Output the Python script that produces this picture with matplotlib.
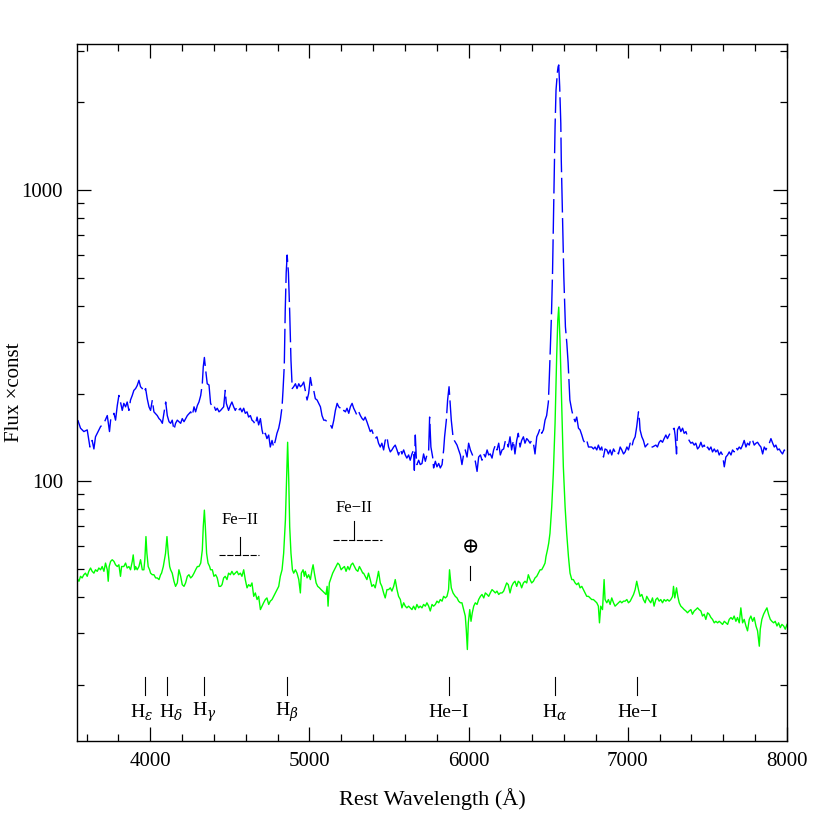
import matplotlib
matplotlib.use("Agg")
import matplotlib.pyplot as plt
from matplotlib.ticker import MultipleLocator, LogLocator, FuncFormatter, NullFormatter

plt.rcParams["font.family"] = ["Liberation Serif", "DejaVu Serif", "DejaVu Sans"]
plt.rcParams["mathtext.fontset"] = "dejavuserif"

# upper spectrum (blue, dashed)
wave_top = [
    3545, 3562, 3583, 3604, 3621, 3635, 3646, 3656, 3667, 3688, 3709, 3730, 3744, 3751, 3772, 3782,
    3793, 3803, 3813, 3824, 3834, 3845, 3855, 3866, 3876, 3887, 3897, 3908, 3918, 3929, 3939, 3950,
    3960, 3971, 3981, 3992, 4002, 4013, 4023, 4044, 4055, 4065, 4076, 4086, 4097, 4107, 4118, 4128,
    4138, 4149, 4159, 4170, 4191, 4201, 4212, 4233, 4254, 4264, 4275, 4285, 4296, 4306, 4317, 4327,
    4333, 4340, 4348, 4358, 4369, 4379, 4390, 4400, 4411, 4421, 4432, 4442, 4461, 4471, 4478, 4492,
    4503, 4513, 4524, 4534, 4545, 4555, 4566, 4576, 4587, 4597, 4608, 4618, 4629, 4639, 4650, 4660,
    4671, 4681, 4692, 4702, 4712, 4723, 4733, 4744, 4754, 4765, 4775, 4786, 4796, 4807, 4817, 4828,
    4834, 4842, 4848, 4854, 4860, 4868, 4876, 4884, 4892, 4901, 4912, 4922, 4933, 4943, 4954, 4964,
    4974, 4985, 4995, 5006, 5016, 5027, 5037, 5048, 5058, 5069, 5079, 5090, 5100, 5111, 5121, 5132,
    5142, 5153, 5163, 5174, 5184, 5195, 5205, 5216, 5226, 5236, 5247, 5257, 5268, 5278, 5289, 5299,
    5310, 5320, 5331, 5340, 5350, 5361, 5371, 5382, 5392, 5403, 5413, 5424, 5434, 5445, 5455, 5466,
    5476, 5487, 5497, 5508, 5518, 5529, 5539, 5550, 5560, 5571, 5581, 5592, 5602, 5612, 5623, 5633,
    5644, 5654, 5659, 5665, 5671, 5675, 5686, 5696, 5707, 5717, 5728, 5738, 5749, 5755, 5763, 5774,
    5780, 5791, 5801, 5812, 5822, 5833, 5843, 5849, 5860, 5868, 5877, 5885, 5891, 5902, 5910, 5927,
    5937, 5948, 5958, 5969, 5979, 5990, 6000, 6011, 6021, 6032, 6042, 6053, 6063, 6074, 6084, 6095,
    6105, 6116, 6126, 6136, 6147, 6157, 6168, 6178, 6189, 6199, 6210, 6220, 6231, 6239, 6249, 6260,
    6270, 6281, 6291, 6302, 6312, 6323, 6333, 6344, 6354, 6365, 6375, 6386, 6396, 6407, 6417, 6428,
    6438, 6449, 6459, 6470, 6480, 6490, 6501, 6507, 6514, 6520, 6527, 6531, 6535, 6539, 6543, 6549,
    6558, 6562, 6566, 6572, 6579, 6582, 6587, 6593, 6598, 6608, 6617, 6625, 6630, 6636, 6648, 6658,
    6669, 6679, 6690, 6700, 6711, 6721, 6732, 6742, 6753, 6773, 6784, 6794, 6805, 6815, 6826, 6836,
    6847, 6857, 6868, 6878, 6889, 6899, 6910, 6920, 6931, 6941, 6952, 6962, 6973, 6983, 6994, 7004,
    7015, 7025, 7035, 7046, 7056, 7067, 7073, 7077, 7088, 7098, 7109, 7119, 7130, 7144, 7155, 7176,
    7186, 7197, 7207, 7218, 7228, 7239, 7249, 7260, 7270, 7281, 7291, 7297, 7306, 7312, 7323, 7333,
    7344, 7354, 7365, 7375, 7385, 7396, 7406, 7417, 7427, 7438, 7448, 7459, 7469, 7480, 7490, 7501,
    7511, 7522, 7532, 7543, 7553, 7564, 7574, 7585, 7595, 7606, 7616, 7627, 7637, 7648, 7658, 7668,
    7679, 7689, 7700, 7710, 7721, 7731, 7742, 7752, 7763, 7773, 7784, 7794, 7805, 7815, 7826, 7836,
    7847, 7857, 7868, 7878, 7889, 7899, 7910, 7920, 7930, 7941, 7951, 7962, 7972, 7983, 7993, 8004,
]
flux_top = [
    162, 152, 148, 150, 131, 138, 129, 142, 146, 154, 158, 168, 148, 162, 171, 162,
    182, 197, 187, 175, 185, 180, 187, 175, 190, 197, 205, 208, 213, 222, 211, 208,
    202, 208, 192, 180, 175, 190, 173, 168, 164, 162, 158, 171, 187, 168, 160, 158,
    162, 150, 158, 162, 158, 164, 160, 168, 173, 168, 180, 173, 182, 187, 197, 216,
    247, 266, 241, 216, 214, 185, 180, 182, 175, 178, 173, 175, 180, 205, 185, 175,
    182, 187, 180, 175, 180, 175, 178, 173, 178, 171, 173, 166, 168, 162, 160, 156,
    166, 156, 164, 150, 142, 146, 140, 144, 131, 138, 131, 138, 146, 152, 162, 180,
    205, 250, 387, 520, 598, 520, 380, 260, 208, 211, 216, 208, 216, 211, 214, 219,
    205, 190, 200, 227, 211, 205, 192, 190, 185, 180, 168, 162, 162, 160, 158, 156,
    152, 162, 175, 185, 180, 178, 173, 175, 173, 178, 171, 180, 185, 178, 173, 168,
    173, 168, 164, 162, 166, 160, 154, 148, 150, 144, 140, 142, 135, 131, 135, 128,
    138, 142, 131, 126, 128, 131, 133, 128, 123, 129, 124, 128, 123, 120, 123, 118,
    124, 128, 109, 144, 121, 114, 118, 114, 115, 124, 117, 123, 128, 166, 131, 121,
    111, 117, 112, 115, 111, 114, 128, 142, 162, 190, 211, 180, 162, 142, 138, 133,
    128, 123, 114, 124, 128, 121, 135, 128, 124, 120, 117, 108, 121, 123, 118, 124,
    121, 128, 123, 124, 120, 128, 133, 128, 135, 123, 128, 129, 138, 138, 131, 142,
    128, 138, 124, 138, 146, 131, 138, 142, 135, 140, 138, 135, 138, 135, 124, 142,
    146, 152, 146, 150, 162, 168, 187, 228, 297, 367, 517, 691, 924, 1235, 1650, 2206,
    2550, 2650, 2690, 2265, 1695, 1268, 948, 691, 504, 339, 297, 255, 222, 190, 175, 166,
    160, 166, 152, 150, 144, 138, 135, 138, 131, 131, 129, 131, 128, 133, 128, 131,
    121, 129, 128, 124, 128, 123, 129, 126, 128, 124, 131, 128, 124, 126, 131, 128,
    135, 131, 138, 142, 154, 173, 162, 150, 142, 138, 131, 133, 135, 131, 131, 133,
    131, 136, 138, 136, 140, 144, 140, 144, 148, 150, 152, 144, 124, 150, 154, 148,
    152, 146, 148, 142, 138, 135, 136, 133, 135, 129, 131, 136, 131, 133, 128, 131,
    128, 131, 126, 129, 126, 128, 123, 126, 123, 112, 121, 123, 126, 123, 128, 126,
    131, 128, 131, 129, 133, 138, 131, 135, 133, 140, 138, 133, 135, 136, 133, 131,
    124, 131, 128, 133, 135, 140, 135, 131, 133, 128, 129, 126, 124, 128, 126, 128,
]

# lower spectrum (green)
wave_bottom = [
    3545, 3552, 3562, 3572, 3583, 3593, 3604, 3614, 3625, 3635, 3646, 3656, 3667, 3677, 3688, 3698,
    3709, 3719, 3730, 3736, 3742, 3751, 3761, 3772, 3782, 3793, 3803, 3813, 3820, 3834, 3845, 3855,
    3866, 3876, 3887, 3893, 3902, 3908, 3918, 3929, 3939, 3950, 3960, 3966, 3973, 3979, 3987, 3996,
    4002, 4013, 4023, 4034, 4044, 4055, 4065, 4071, 4082, 4096, 4105, 4113, 4122, 4128, 4138, 4149,
    4159, 4170, 4180, 4191, 4201, 4212, 4222, 4233, 4243, 4254, 4264, 4275, 4285, 4296, 4306, 4317,
    4327, 4333, 4340, 4346, 4354, 4363, 4373, 4379, 4390, 4400, 4411, 4421, 4432, 4442, 4451, 4461,
    4471, 4482, 4492, 4503, 4513, 4524, 4534, 4545, 4555, 4566, 4576, 4587, 4597, 4608, 4618, 4629,
    4639, 4650, 4660, 4671, 4681, 4692, 4702, 4712, 4723, 4733, 4744, 4754, 4765, 4775, 4786, 4796,
    4807, 4817, 4828, 4838, 4849, 4857, 4863, 4870, 4876, 4884, 4893, 4901, 4912, 4922, 4933, 4943,
    4949, 4960, 4968, 4974, 4985, 4995, 5006, 5016, 5023, 5031, 5042, 5052, 5063, 5073, 5083, 5094,
    5104, 5111, 5117, 5125, 5136, 5146, 5157, 5167, 5178, 5188, 5199, 5209, 5220, 5230, 5241, 5251,
    5262, 5272, 5283, 5293, 5304, 5314, 5325, 5335, 5340, 5350, 5361, 5371, 5382, 5392, 5403, 5413,
    5424, 5434, 5445, 5455, 5466, 5476, 5487, 5497, 5508, 5518, 5529, 5539, 5550, 5560, 5571, 5581,
    5592, 5602, 5612, 5623, 5633, 5644, 5654, 5665, 5675, 5686, 5696, 5707, 5717, 5728, 5738, 5749,
    5759, 5770, 5780, 5791, 5801, 5812, 5822, 5833, 5843, 5854, 5864, 5874, 5880, 5891, 5902, 5916,
    5927, 5937, 5948, 5958, 5969, 5979, 5985, 5992, 5998, 6007, 6015, 6023, 6032, 6042, 6053, 6063,
    6074, 6084, 6095, 6105, 6116, 6126, 6136, 6147, 6157, 6168, 6178, 6189, 6199, 6210, 6220, 6231,
    6239, 6249, 6260, 6270, 6281, 6291, 6302, 6312, 6323, 6333, 6344, 6354, 6365, 6375, 6386, 6396,
    6407, 6417, 6428, 6438, 6449, 6459, 6470, 6480, 6486, 6495, 6503, 6511, 6522, 6532, 6543, 6553,
    6560, 6566, 6572, 6574, 6585, 6595, 6606, 6616, 6627, 6637, 6648, 6658, 6669, 6679, 6690, 6700,
    6711, 6721, 6732, 6742, 6753, 6763, 6773, 6784, 6794, 6805, 6815, 6822, 6830, 6841, 6851, 6857,
    6868, 6878, 6889, 6899, 6910, 6920, 6931, 6941, 6952, 6962, 6973, 6983, 6994, 7004, 7015, 7025,
    7036, 7046, 7056, 7067, 7077, 7088, 7098, 7109, 7119, 7130, 7144, 7155, 7165, 7176, 7186, 7197,
    7207, 7218, 7228, 7239, 7249, 7260, 7270, 7281, 7287, 7295, 7306, 7314, 7323, 7333, 7344, 7354,
    7365, 7375, 7385, 7396, 7406, 7417, 7427, 7438, 7448, 7459, 7469, 7480, 7490, 7501, 7511, 7522,
    7532, 7543, 7553, 7564, 7574, 7585, 7595, 7606, 7616, 7627, 7637, 7648, 7658, 7668, 7679, 7689,
    7700, 7710, 7721, 7731, 7742, 7752, 7763, 7773, 7784, 7794, 7805, 7815, 7826, 7832, 7842, 7853,
    7863, 7874, 7884, 7895, 7905, 7916, 7926, 7937, 7947, 7958, 7968, 7979, 7989, 8000,
]
flux_bottom = [
    45.9, 45.3, 47.1, 46.5, 47.7, 48.3, 47.1, 49.0, 50.3, 49.0, 48.3, 49.6, 49.0, 50.3, 49.6, 50.9,
    49.0, 52.3, 49.6, 45.3, 50.9, 53.0, 53.7, 53.0, 51.6, 50.9, 51.6, 47.1, 50.9, 50.9, 52.3, 50.3,
    50.9, 49.6, 53.0, 55.8, 49.6, 50.9, 49.6, 50.9, 53.7, 49.6, 49.6, 53.7, 64.5, 56.5, 50.9, 49.6,
    48.3, 47.7, 47.7, 46.5, 46.5, 45.9, 47.7, 48.3, 50.9, 56.5, 64.5, 56.5, 50.9, 49.6, 48.3, 45.3,
    43.5, 44.7, 49.6, 47.1, 44.1, 43.5, 44.7, 47.1, 47.7, 46.5, 47.1, 48.3, 49.6, 50.9, 50.9, 52.3,
    58.0, 69.7, 79.5, 69.7, 56.5, 52.3, 50.9, 49.6, 49.6, 47.1, 47.7, 46.5, 43.5, 43.5, 44.1, 46.5,
    47.1, 45.9, 48.3, 47.7, 49.0, 47.7, 48.3, 49.0, 47.7, 48.3, 47.1, 49.6, 45.9, 43.0, 44.1, 43.5,
    44.7, 40.2, 41.3, 39.2, 40.2, 36.2, 37.2, 38.2, 39.2, 39.7, 37.7, 38.7, 39.2, 40.2, 41.3, 42.4,
    43.5, 47.1, 49.6, 56.5, 73.5, 106, 136, 101, 69.7, 56.5, 49.6, 48.3, 49.6, 48.3, 45.9, 41.3,
    48.3, 49.6, 47.1, 49.0, 46.5, 47.7, 45.9, 49.6, 51.6, 48.3, 44.7, 43.5, 43.0, 42.4, 41.9, 41.3,
    40.8, 43.5, 37.2, 44.7, 46.5, 48.3, 49.6, 50.9, 52.3, 51.6, 49.6, 50.3, 50.9, 49.0, 50.9, 49.6,
    51.6, 52.3, 50.9, 49.6, 49.0, 50.9, 49.6, 48.3, 48.3, 47.1, 45.9, 48.3, 45.9, 43.5, 44.1, 43.0,
    45.9, 49.0, 44.7, 43.5, 41.3, 39.7, 42.4, 42.4, 43.0, 41.9, 43.5, 45.9, 42.4, 40.2, 39.2, 36.7,
    38.2, 37.2, 36.7, 37.2, 36.7, 36.2, 37.2, 36.2, 37.7, 36.7, 37.2, 36.7, 37.7, 37.2, 38.2, 37.2,
    35.8, 37.7, 37.2, 37.7, 38.7, 38.2, 39.2, 38.7, 40.2, 39.7, 40.2, 42.4, 49.6, 43.0, 41.3, 40.2,
    39.7, 38.7, 38.2, 38.2, 36.2, 34.4, 31.0, 26.4, 32.6, 36.2, 33.0, 35.3, 37.2, 38.2, 37.7, 39.2,
    40.2, 40.8, 39.7, 41.3, 40.8, 40.2, 41.3, 42.4, 41.9, 41.3, 41.9, 40.8, 41.3, 41.3, 41.9, 43.5,
    44.7, 44.1, 41.3, 43.5, 44.7, 45.3, 43.5, 45.3, 44.7, 43.0, 44.7, 45.3, 44.7, 47.7, 45.9, 44.7,
    45.3, 46.5, 47.1, 48.3, 49.6, 49.6, 50.9, 52.3, 55.1, 58.0, 61.2, 66.2, 81.6, 106, 158, 267,
    357, 396, 330, 305, 180, 112, 81.6, 66.2, 55.1, 48.3, 45.9, 45.9, 44.7, 44.1, 44.7, 43.0,
    43.5, 42.4, 41.3, 40.2, 40.2, 39.7, 39.2, 39.2, 38.7, 38.2, 37.2, 32.6, 37.2, 36.2, 45.9, 39.2,
    38.2, 39.2, 37.7, 39.7, 38.2, 37.2, 37.7, 38.2, 38.7, 38.2, 38.7, 38.7, 39.2, 38.2, 38.7, 39.7,
    40.8, 42.4, 45.3, 42.4, 40.2, 40.8, 39.2, 38.2, 40.2, 39.2, 38.2, 39.7, 37.2, 39.2, 39.7, 38.7,
    39.2, 38.2, 39.2, 38.7, 39.2, 38.7, 39.2, 40.2, 43.5, 39.7, 43.0, 40.2, 38.2, 37.2, 36.7, 36.2,
    35.8, 35.3, 35.8, 36.2, 34.9, 35.8, 36.2, 36.7, 36.2, 35.8, 34.4, 34.9, 33.5, 35.3, 34.9, 34.0,
    33.5, 32.6, 33.0, 32.6, 33.0, 32.6, 32.2, 33.0, 32.6, 32.2, 33.5, 34.0, 33.5, 34.4, 33.0, 34.0,
    32.6, 36.7, 32.6, 33.5, 31.8, 30.6, 33.5, 34.4, 33.0, 34.0, 31.8, 30.6, 27.1, 31.0, 33.5, 34.9,
    35.8, 36.7, 34.9, 33.5, 33.0, 32.6, 33.0, 31.8, 32.6, 31.4, 32.2, 31.8, 31.0, 32.2,
]

# line identifications along the bottom
line_labels = [r"H$_\epsilon$", r"H$_\delta$", r"H$_\gamma$", r"H$_\beta$", "He\u2212I", r"H$_\alpha$", "He\u2212I"]
line_waves = [3970, 4105, 4340, 4856, 5876, 6540, 7060]
label_waves = [3945, 4128, 4340, 4856, 5876, 6540, 7060]

# Fe II blends and telluric mark
feii_centre = [4566, 5283]
feii_lo = [4434, 5151]
feii_hi = [4686, 5453]
feii_base = [55.6, 62.7]
feii_top = [64.2, 72.9]
feii_text = [73.4, 80.8]
telluric_wave = 6006

fig = plt.figure(figsize=(8.3, 8.3), dpi=100)
ax = fig.add_axes([0.0928, 0.1072, 0.8554, 0.8398])

ax.plot(wave_top, flux_top, color="#0000ff", lw=1.0, dashes=(25, 4))
ax.plot(wave_bottom, flux_bottom, color="#00ff00", lw=1.0)

ax.set_yscale("log")
ax.set_xlim(3540, 8000)
ax.set_ylim(12.8, 3175)

for w, lw_, lab in zip(line_waves, label_waves, line_labels):
    ax.plot([w, w], [18.4, 21.2], color="k", lw=0.8)
    ax.text(lw_, 16.1, lab, ha="center", va="center", fontsize=14)

for c, lo, hi, b, t, tt in zip(feii_centre, feii_lo, feii_hi, feii_base, feii_top, feii_text):
    ax.plot([lo, hi], [b, b], color="k", lw=0.8, dashes=(5.5, 1.5))
    ax.plot([c, c], [b, t], color="k", lw=0.8)
    ax.text(c, tt, "Fe\u2212II", ha="center", va="center", fontsize=12)

ax.text(telluric_wave, 58.6, r"$\oplus$", ha="center", va="center", fontsize=15)
ax.plot([telluric_wave, telluric_wave], [45.7, 51.3], color="k", lw=0.8)

ax.xaxis.set_major_locator(MultipleLocator(1000))
ax.xaxis.set_minor_locator(MultipleLocator(200))
ax.yaxis.set_major_locator(LogLocator(base=10))
ax.yaxis.set_minor_locator(LogLocator(base=10, subs=range(2, 10)))
ax.yaxis.set_major_formatter(FuncFormatter(lambda v, p: "%d" % v))
ax.yaxis.set_minor_formatter(NullFormatter())
ax.tick_params(which="both", direction="in", top=True, right=True, width=0.9, labelsize=15)
ax.tick_params(which="major", length=10)
ax.tick_params(which="minor", length=5)
ax.tick_params(axis="x", pad=8)
ax.tick_params(axis="y", pad=10)
for s in ax.spines.values():
    s.set_linewidth(1.0)

ax.set_xlabel("Rest Wavelength (\u00c5)", fontsize=16, labelpad=12)
ax.set_ylabel("Flux \u00d7const", fontsize=15)
ax.yaxis.set_label_coords(-0.075, 0.5)

fig.savefig("out.png", dpi=100)
